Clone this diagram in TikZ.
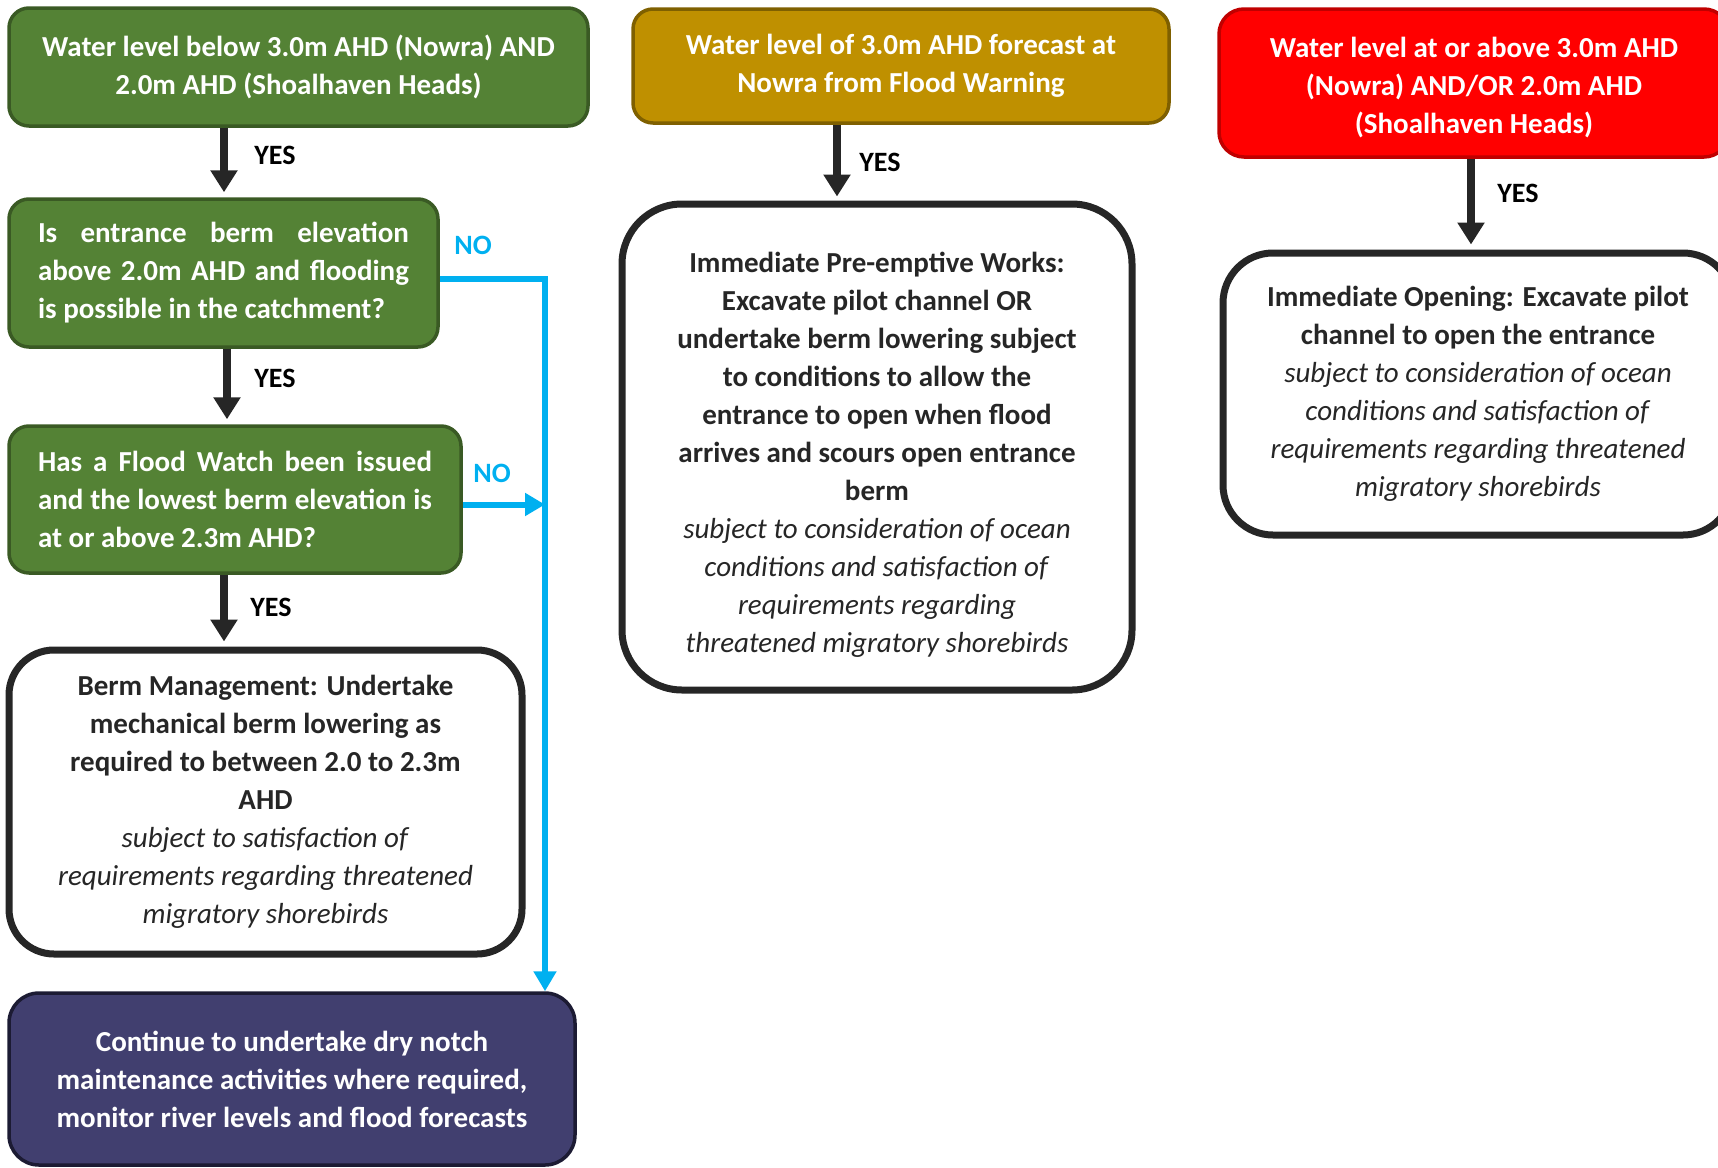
\documentclass[tikz,border=0pt]{standalone}
\usepackage{fontspec}
\setmainfont{Carlito}
\usetikzlibrary{arrows.meta}
\definecolor{grn}{HTML}{548235}
\definecolor{grnb}{HTML}{3A5A24}
\definecolor{goldf}{HTML}{BF9000}
\definecolor{goldb}{HTML}{7F6000}
\definecolor{redf}{HTML}{FF0000}
\definecolor{redb}{HTML}{C00000}
\definecolor{purp}{HTML}{413F6F}
\definecolor{purpb}{HTML}{1C1B33}
\definecolor{dk}{HTML}{262626}
\definecolor{cyanl}{HTML}{00B0F0}
\begin{document}
\begin{tikzpicture}[x=1pt,y=-1pt,
  cbox/.style={draw, line width=3.5pt, rounded corners=20pt, text=white,
    font=\bfseries\fontsize{29}{38}\selectfont, align=center, inner sep=0pt},
  wbox/.style={draw=dk, line width=7pt, fill=white, rounded corners=50pt, text=dk,
    font=\fontsize{29}{38}\selectfont, align=center, inner sep=0pt},
  arr/.style={draw=dk, line width=8pt, -{Triangle[width=26pt,length=22pt]}},
  bline/.style={draw=cyanl, line width=6pt},
  btip/.style={-{Triangle[width=22pt,length=20pt]}},
  yeslab/.style={font=\bfseries\fontsize{28}{30}\selectfont, text=black},
  nolab/.style={font=\bfseries\fontsize{28}{30}\selectfont, text=cyanl}]
\useasboundingbox (0,0) rectangle (1718,1167);
\clip (0,0) rectangle (1718,1167);

% left column
\node[cbox, fill=grn, draw=grnb, minimum width=579pt, minimum height=118pt] (start) at (298.5,67)
  {Water level below 3.0m AHD (Nowra) AND\\ 2.0m AHD (Shoalhaven Heads)};
\node[cbox, fill=grn, draw=grnb, minimum width=429pt, minimum height=148pt, align=left] (q1) at (223.5,273)
  {\makebox[371pt][s]{Is entrance berm elevation}\\ \makebox[371pt][s]{above 2.0m AHD and flooding}\\ is possible in the catchment?};
\node[cbox, fill=grn, draw=grnb, minimum width=452pt, minimum height=147pt, align=left] (q2) at (235,499.5)
  {\makebox[394pt][s]{Has a Flood Watch been issued}\\ \makebox[394pt][s]{and the lowest berm elevation is}\\ at or above 2.3m AHD?};
\node[wbox, rounded corners=45pt, minimum width=513pt, minimum height=304pt] (berm) at (265.5,802)
  {\textbf{Berm Management: Undertake}\\ \textbf{mechanical berm lowering as}\\ \textbf{required to between 2.0 to 2.3m}\\ \textbf{AHD}\\
   \textit{subject to satisfaction of}\\ \textit{requirements regarding threatened}\\ \textit{migratory shorebirds}};
\node[cbox, fill=purp, draw=purpb, rounded corners=30pt, minimum width=566pt, minimum height=172pt] (cont) at (292,1079)
  {Continue to undertake dry notch\\ maintenance activities where required,\\ monitor river levels and flood forecasts};

% middle column
\node[cbox, fill=goldf, draw=goldb, minimum width=536pt, minimum height=114pt] (fw) at (901,66)
  {Water level of 3.0m AHD forecast at\\ Nowra from Flood Warning};
\node[wbox, rounded corners=60pt, minimum width=510pt, minimum height=486pt] (pre) at (877,447)
  {\rule{0pt}{36pt}\textbf{Immediate Pre-emptive Works:}\\ \textbf{Excavate pilot channel OR}\\ \textbf{undertake berm lowering subject}\\ \textbf{to conditions to allow the}\\ \textbf{entrance to open when flood}\\ \textbf{arrives and scours open entrance}\\ \textbf{berm}\\
   \textit{subject to consideration of ocean}\\ \textit{conditions and satisfaction of}\\ \textit{requirements regarding}\\ \textit{threatened migratory shorebirds}};

% right column
\node[cbox, fill=redf, draw=redb, rounded corners=25pt, minimum width=510pt, minimum height=148pt] (hi) at (1474,83)
  {\rule{0pt}{30pt}Water level at or above 3.0m AHD\\ (Nowra) AND/OR 2.0m AHD\\ (Shoalhaven Heads)};
\node[wbox, minimum width=510pt, minimum height=282pt] (open) at (1478,394)
  {\textbf{Immediate Opening: Excavate pilot}\\ \textbf{channel to open the entrance}\\
   \textit{subject to consideration of ocean}\\ \textit{conditions and satisfaction of}\\ \textit{requirements regarding threatened}\\ \textit{migratory shorebirds}};

% YES arrows
\coordinate (xa1) at (224,0);
\coordinate (xa2) at (227,0);
\coordinate (xa4) at (837,0);
\coordinate (xa5) at (1471,0);
\draw[arr, shorten >=5pt] (start.south -| xa1) -- (q1.north -| xa1);
\draw[arr, shorten >=5pt] (q1.south -| xa2) -- (q2.north -| xa2);
\draw[arr, shorten >=5pt] (q2.south -| xa1) -- (berm.north -| xa1);
\draw[arr, shorten >=4pt] (fw.south -| xa4) -- (pre.north -| xa4);
\draw[arr, shorten >=5pt] (hi.south -| xa5) -- (open.north -| xa5);
\node[yeslab] (y1) at (275,155) {YES};
\node[yeslab] (y2) at (275,378) {YES};
\node[yeslab] (y3) at (271,607) {YES};
\node[yeslab] (y4) at (880,162) {YES};
\node[yeslab] (y5) at (1518,193) {YES};

% NO connectors
\coordinate (bus) at (545,279);
\draw[bline, btip] ([yshift=-6pt]q1.east) -| (cont.north -| bus);
\draw[bline, btip] ([yshift=-5pt]q2.east) -- ([yshift=-5pt]q2.east -| bus);
\node[nolab] (n1) at (473,245) {NO};
\node[nolab] (n2) at (492,473) {NO};
\end{tikzpicture}
\end{document}
